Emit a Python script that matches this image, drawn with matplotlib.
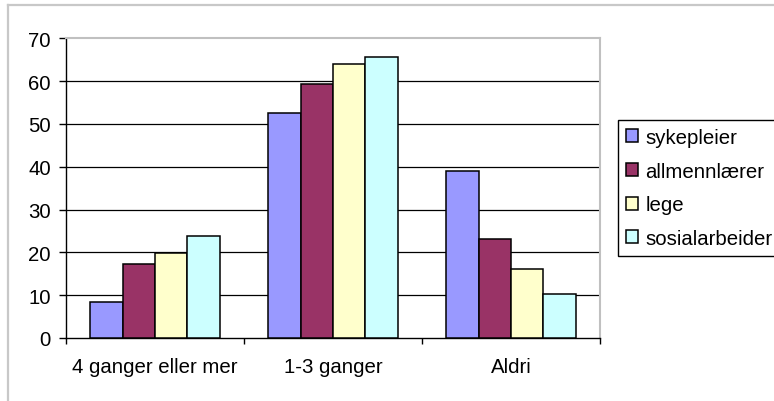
import matplotlib
matplotlib.use("Agg")
import matplotlib.pyplot as plt
from matplotlib.lines import Line2D
import numpy as np

plt.rcParams['font.family'] = ['Liberation Sans', 'DejaVu Sans']

categories = ["4 ganger eller mer", "1-3 ganger", "Aldri"]
series_names = ["sykepleier", "allmennlærer", "lege", "sosialarbeider"]
sykepleier = [8.3, 52.6, 38.9]
allmennlaerer = [17.4, 59.3, 23.1]
lege = [19.9, 63.9, 16.0]
sosialarbeider = [23.8, 65.7, 10.2]
series_values = [sykepleier, allmennlaerer, lege, sosialarbeider]
colors = ["#9999FF", "#993366", "#FFFFCC", "#CCFFFF"]
y_ticks = [0, 10, 20, 30, 40, 50, 60, 70]

FS = 14.7
W, H = 774, 402
fig = plt.figure(figsize=(W / 100, H / 100), dpi=100)
ax = fig.add_axes([66 / W, 1 - 339 / H, (600 - 66) / W, (339 - 39.3) / H])

n = len(series_names)
bar_w = 0.73 / n
centers = np.arange(len(categories)) + 0.5
for i, (name, vals, col) in enumerate(zip(series_names, series_values, colors)):
    offs = (i - (n - 1) / 2) * bar_w
    ax.bar(centers + offs, vals, width=bar_w, color=col, edgecolor="black",
           linewidth=1.1, label=name, zorder=3)

ax.set_xlim(0, len(categories))
ax.set_ylim(0, 70)
ax.set_yticks(y_ticks)
ax.set_yticklabels([str(t) for t in y_ticks], fontsize=FS)
ax.set_xticks(centers)
ax.set_xticklabels(categories, fontsize=FS)
ax.set_xticks(np.arange(len(categories) + 1), minor=True)
ax.tick_params(axis="x", which="major", length=0, pad=14)
ax.tick_params(axis="x", which="minor", length=4.5, width=1.0, color="black", direction="out")
ax.tick_params(axis="y", length=5, width=1.0, color="black", pad=6, direction="out")

# horizontal gridlines (the top one is replaced by the light frame)
for t in y_ticks[1:-1]:
    ax.axhline(t, color="black", linewidth=0.9, zorder=1)

for side in ("left", "bottom"):
    ax.spines[side].set_color("black")
    ax.spines[side].set_linewidth(1.0)
for side in ("top", "right"):
    ax.spines[side].set_color("#C0C0C0")
    ax.spines[side].set_linewidth(1.5)

leg = fig.legend(loc="upper left", bbox_to_anchor=(618 / W, 1 - 120.7 / H),
                 fontsize=FS, frameon=True, fancybox=False, shadow=False,
                 handlelength=0.6, handleheight=0.6, handletextpad=0.35,
                 labelspacing=0.72, borderpad=0.4, borderaxespad=0)
leg.get_frame().set_edgecolor("black")
leg.get_frame().set_linewidth(1.0)
leg.get_frame().set_alpha(1)

# light outer frame along the left and top edges
fig.add_artist(Line2D([7.5 / W, 7.5 / W], [0, 1 - 5.5 / H], transform=fig.transFigure,
                      color="#C8C8C8", linewidth=1.6))
fig.add_artist(Line2D([7.5 / W, 1], [1 - 5.5 / H, 1 - 5.5 / H], transform=fig.transFigure,
                      color="#C8C8C8", linewidth=1.6))

fig.savefig("out.png", dpi=100, facecolor="white")
